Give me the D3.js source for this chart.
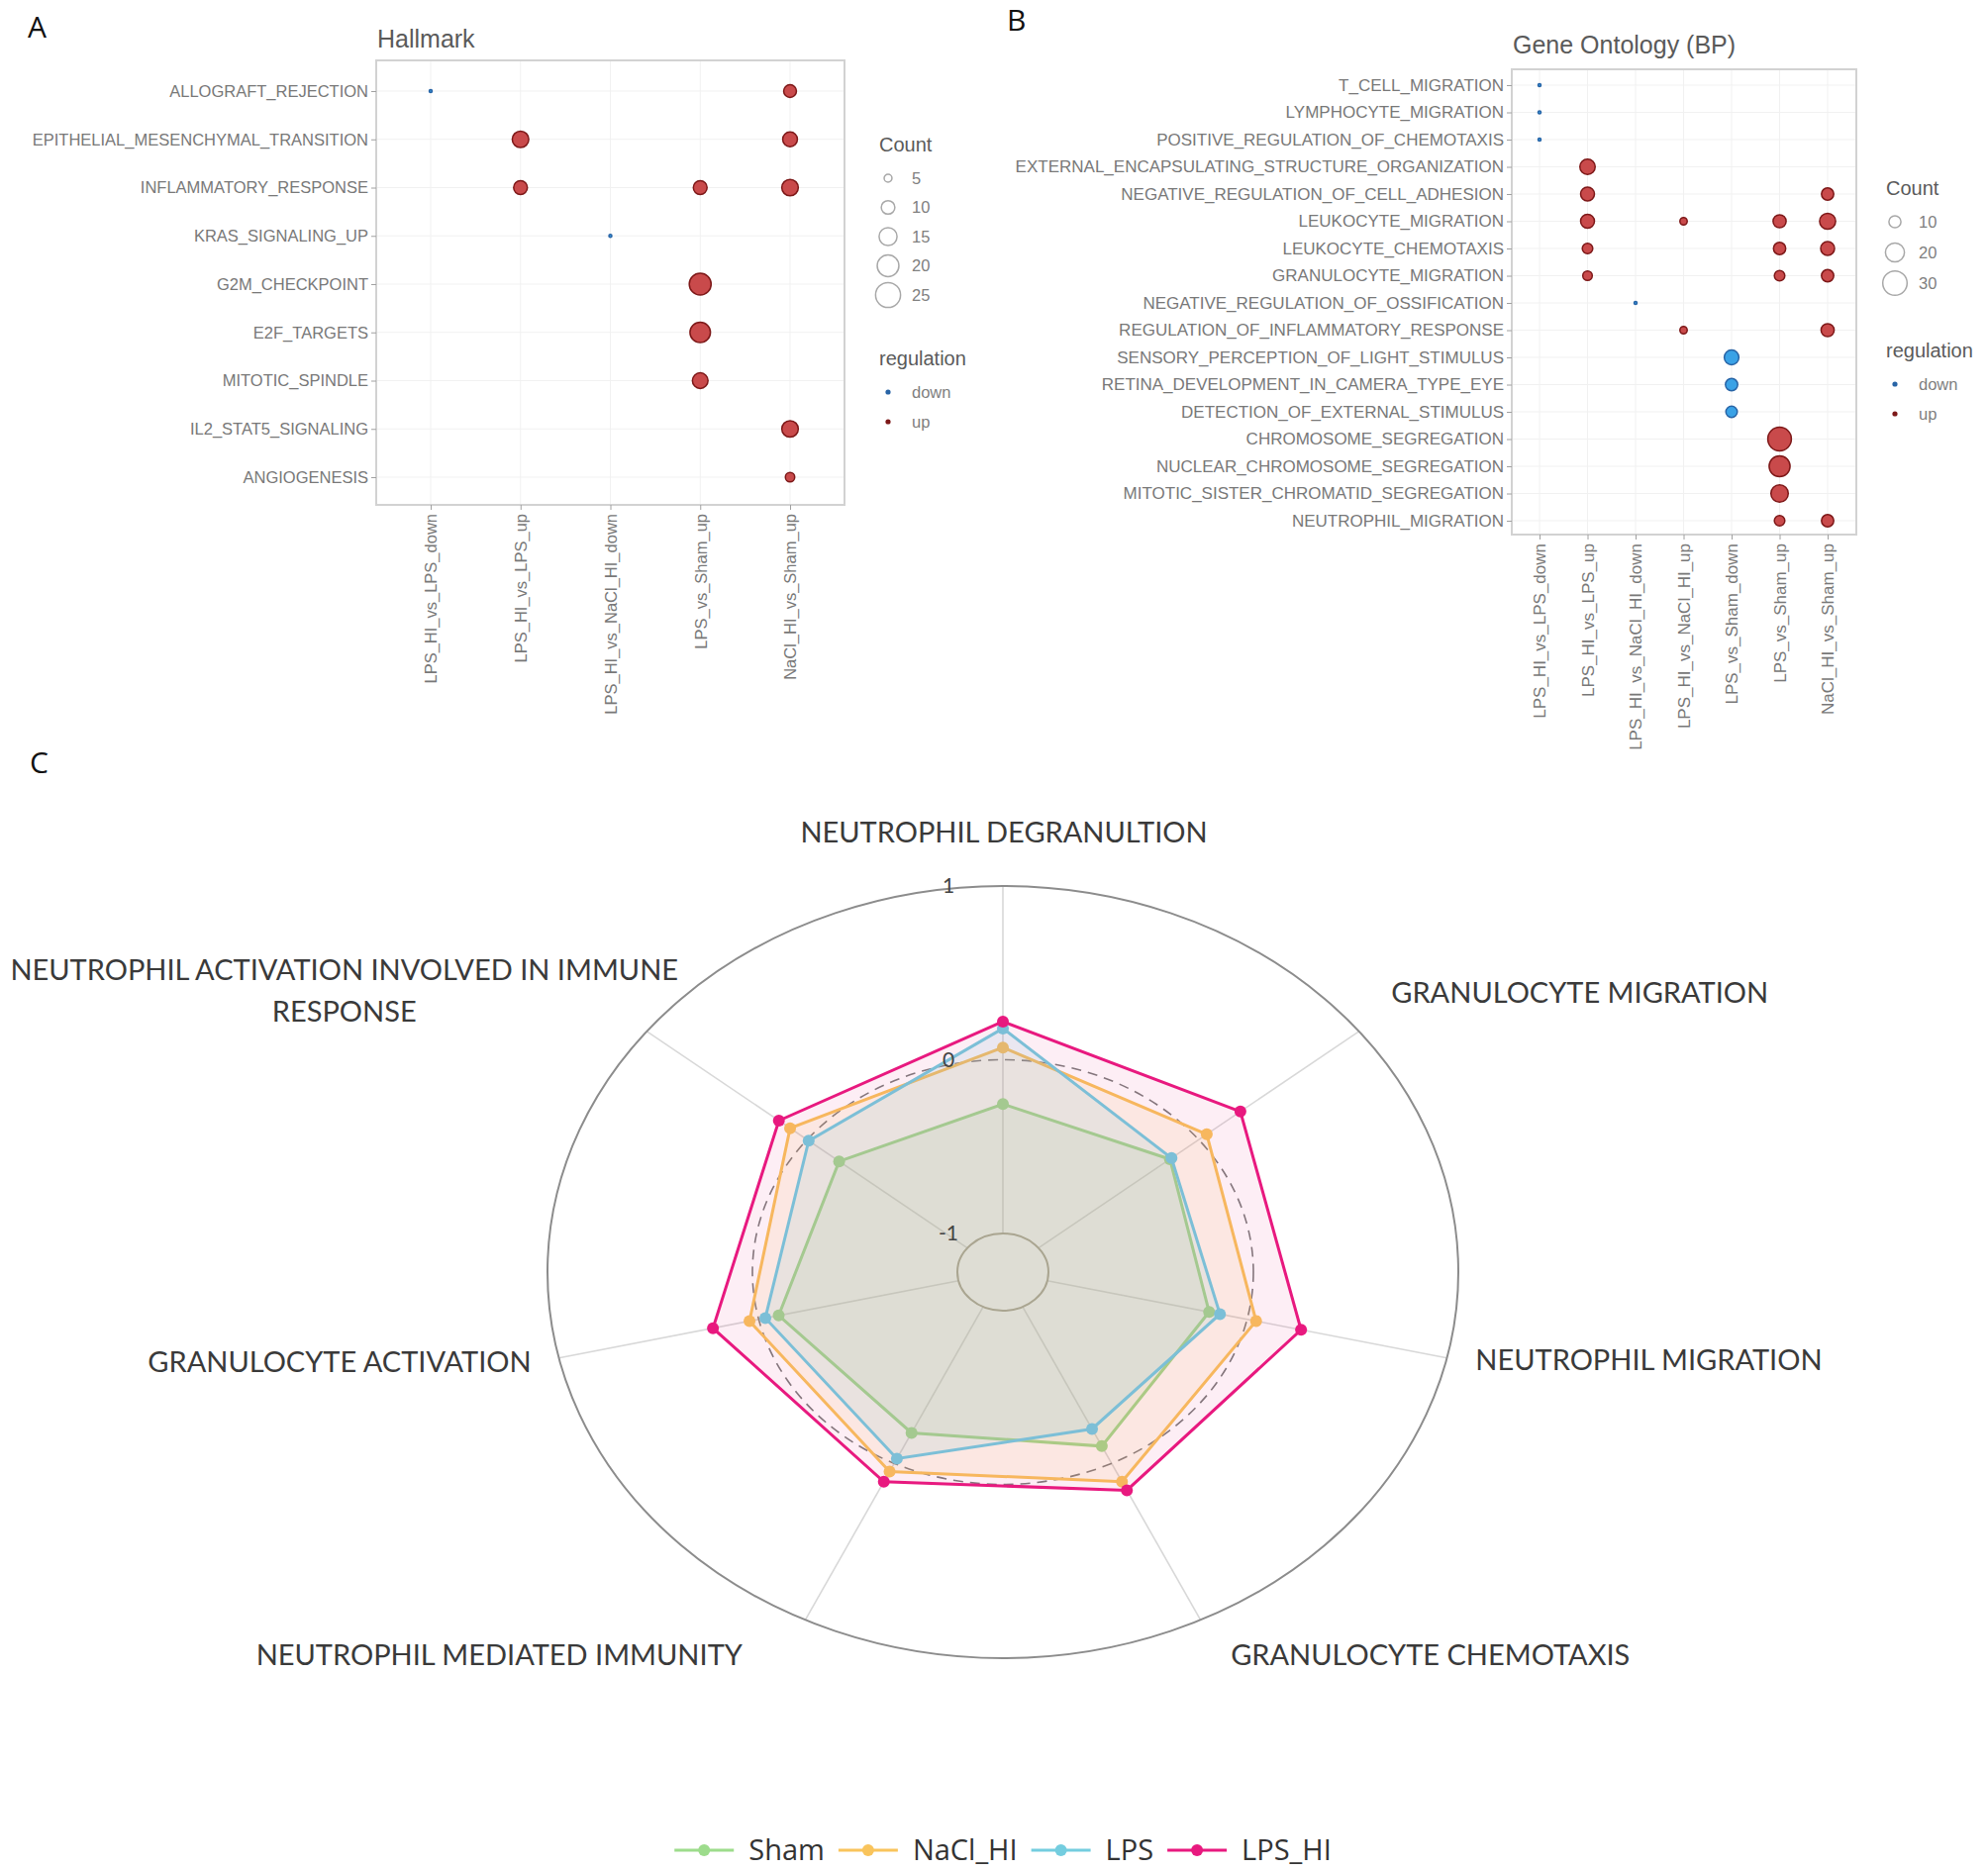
<!DOCTYPE html>
<html>
<head>
<meta charset="utf-8">
<script src="https://cdn.jsdelivr.net/npm/d3@7"></script>
<style>
    body { margin: 0; background: #ffffff; }
    svg { display: block; }
</style>
</head>
<body>
<div id="chart"></div>
<script>

// ---------- Panel A : Hallmark ----------
const hallmarkTerms = [
    "ALLOGRAFT_REJECTION", "EPITHELIAL_MESENCHYMAL_TRANSITION", "INFLAMMATORY_RESPONSE",
    "KRAS_SIGNALING_UP", "G2M_CHECKPOINT", "E2F_TARGETS", "MITOTIC_SPINDLE",
    "IL2_STAT5_SIGNALING", "ANGIOGENESIS"
];
const hallmarkComparisons = [
    "LPS_HI_vs_LPS_down", "LPS_HI_vs_LPS_up", "LPS_HI_vs_NaCl_HI_down",
    "LPS_vs_Sham_up", "NaCl_HI_vs_Sham_up"
];
// term, comparison, gene count, regulation
const hallmarkHits = [
    ["ALLOGRAFT_REJECTION", "LPS_HI_vs_LPS_down", 2, "down"],
    ["ALLOGRAFT_REJECTION", "NaCl_HI_vs_Sham_up", 9, "up"],
    ["EPITHELIAL_MESENCHYMAL_TRANSITION", "LPS_HI_vs_LPS_up", 13, "up"],
    ["EPITHELIAL_MESENCHYMAL_TRANSITION", "NaCl_HI_vs_Sham_up", 11, "up"],
    ["INFLAMMATORY_RESPONSE", "LPS_HI_vs_LPS_up", 10, "up"],
    ["INFLAMMATORY_RESPONSE", "LPS_vs_Sham_up", 10, "up"],
    ["INFLAMMATORY_RESPONSE", "NaCl_HI_vs_Sham_up", 13, "up"],
    ["KRAS_SIGNALING_UP", "LPS_HI_vs_NaCl_HI_down", 2, "down"],
    ["G2M_CHECKPOINT", "LPS_vs_Sham_up", 20, "up"],
    ["E2F_TARGETS", "LPS_vs_Sham_up", 18, "up"],
    ["MITOTIC_SPINDLE", "LPS_vs_Sham_up", 12, "up"],
    ["IL2_STAT5_SIGNALING", "NaCl_HI_vs_Sham_up", 13, "up"],
    ["ANGIOGENESIS", "NaCl_HI_vs_Sham_up", 6, "up"]
];
const hallmarkCountBreaks = [5, 10, 15, 20, 25];

// ---------- Panel B : Gene Ontology (BP) ----------
const goTerms = [
    "T_CELL_MIGRATION", "LYMPHOCYTE_MIGRATION", "POSITIVE_REGULATION_OF_CHEMOTAXIS",
    "EXTERNAL_ENCAPSULATING_STRUCTURE_ORGANIZATION", "NEGATIVE_REGULATION_OF_CELL_ADHESION",
    "LEUKOCYTE_MIGRATION", "LEUKOCYTE_CHEMOTAXIS", "GRANULOCYTE_MIGRATION",
    "NEGATIVE_REGULATION_OF_OSSIFICATION", "REGULATION_OF_INFLAMMATORY_RESPONSE",
    "SENSORY_PERCEPTION_OF_LIGHT_STIMULUS", "RETINA_DEVELOPMENT_IN_CAMERA_TYPE_EYE",
    "DETECTION_OF_EXTERNAL_STIMULUS", "CHROMOSOME_SEGREGATION",
    "NUCLEAR_CHROMOSOME_SEGREGATION", "MITOTIC_SISTER_CHROMATID_SEGREGATION",
    "NEUTROPHIL_MIGRATION"
];
const goComparisons = [
    "LPS_HI_vs_LPS_down", "LPS_HI_vs_LPS_up", "LPS_HI_vs_NaCl_HI_down", "LPS_HI_vs_NaCl_HI_up",
    "LPS_vs_Sham_down", "LPS_vs_Sham_up", "NaCl_HI_vs_Sham_up"
];
const goHits = [
    ["T_CELL_MIGRATION", "LPS_HI_vs_LPS_down", 2, "down"],
    ["LYMPHOCYTE_MIGRATION", "LPS_HI_vs_LPS_down", 2, "down"],
    ["POSITIVE_REGULATION_OF_CHEMOTAXIS", "LPS_HI_vs_LPS_down", 2, "down"],
    ["EXTERNAL_ENCAPSULATING_STRUCTURE_ORGANIZATION", "LPS_HI_vs_LPS_up", 14, "up"],
    ["NEGATIVE_REGULATION_OF_CELL_ADHESION", "LPS_HI_vs_LPS_up", 12, "up"],
    ["NEGATIVE_REGULATION_OF_CELL_ADHESION", "NaCl_HI_vs_Sham_up", 10, "up"],
    ["LEUKOCYTE_MIGRATION", "LPS_HI_vs_LPS_up", 12, "up"],
    ["LEUKOCYTE_MIGRATION", "LPS_HI_vs_NaCl_HI_up", 5, "up"],
    ["LEUKOCYTE_MIGRATION", "LPS_vs_Sham_up", 11, "up"],
    ["LEUKOCYTE_MIGRATION", "NaCl_HI_vs_Sham_up", 15, "up"],
    ["LEUKOCYTE_CHEMOTAXIS", "LPS_HI_vs_LPS_up", 8, "up"],
    ["LEUKOCYTE_CHEMOTAXIS", "LPS_vs_Sham_up", 10, "up"],
    ["LEUKOCYTE_CHEMOTAXIS", "NaCl_HI_vs_Sham_up", 12, "up"],
    ["GRANULOCYTE_MIGRATION", "LPS_HI_vs_LPS_up", 7, "up"],
    ["GRANULOCYTE_MIGRATION", "LPS_vs_Sham_up", 8, "up"],
    ["GRANULOCYTE_MIGRATION", "NaCl_HI_vs_Sham_up", 10, "up"],
    ["NEGATIVE_REGULATION_OF_OSSIFICATION", "LPS_HI_vs_NaCl_HI_down", 2, "down"],
    ["REGULATION_OF_INFLAMMATORY_RESPONSE", "LPS_HI_vs_NaCl_HI_up", 5, "up"],
    ["REGULATION_OF_INFLAMMATORY_RESPONSE", "NaCl_HI_vs_Sham_up", 11, "up"],
    ["SENSORY_PERCEPTION_OF_LIGHT_STIMULUS", "LPS_vs_Sham_down", 13, "down"],
    ["RETINA_DEVELOPMENT_IN_CAMERA_TYPE_EYE", "LPS_vs_Sham_down", 10, "down"],
    ["DETECTION_OF_EXTERNAL_STIMULUS", "LPS_vs_Sham_down", 9, "down"],
    ["CHROMOSOME_SEGREGATION", "LPS_vs_Sham_up", 28, "up"],
    ["NUCLEAR_CHROMOSOME_SEGREGATION", "LPS_vs_Sham_up", 23, "up"],
    ["MITOTIC_SISTER_CHROMATID_SEGREGATION", "LPS_vs_Sham_up", 17, "up"],
    ["NEUTROPHIL_MIGRATION", "LPS_vs_Sham_up", 8, "up"],
    ["NEUTROPHIL_MIGRATION", "NaCl_HI_vs_Sham_up", 10, "up"]
];
const goCountBreaks = [10, 20, 30];

const regulationLevels = ["down", "up"];

// ---------- Panel C : radar ----------
const radarAxes = [
    "NEUTROPHIL DEGRANULTION", "GRANULOCYTE MIGRATION", "NEUTROPHIL MIGRATION",
    "GRANULOCYTE CHEMOTAXIS", "NEUTROPHIL MEDIATED IMMUNITY", "GRANULOCYTE ACTIVATION",
    "NEUTROPHIL ACTIVATION INVOLVED IN IMMUNE RESPONSE"
];
const radarGroups = ["Sham", "NaCl_HI", "LPS", "LPS_HI"];
const shamScores = [-0.255, -0.18, -0.19, -0.11, -0.195, -0.10, -0.20];
const naclHiScores = [0.07, 0.05, 0.045, 0.117, 0.052, 0.046, 0.106];
const lpsScores = [0.18, -0.17, -0.136, -0.22, -0.03, -0.033, -0.01];
const lpsHiScores = [0.22, 0.26, 0.27, 0.172, 0.117, 0.229, 0.176];
const radarTicks = [-1, 0, 1];


const svg = d3.select("#chart").append("svg")
    .attr("width", 2008)
    .attr("height", 1890);

const dotFont = "'Liberation Sans', Arial, Helvetica, sans-serif";
const regFill = {down: "#3aa2e6", up: "#c94a4b"};
const regStroke = {down: "#2864a6", up: "#7d1818"};

class DotPlot {
    constructor(opts){
        this.opts = opts;
        this.initVis();
    }

    initVis(){
        let vis = this;
        let o = vis.opts;

        vis.g = svg.append("g");

        // Scales
        vis.y = d3.scalePoint().domain(o.terms).range(o.rowRange);
        vis.x = d3.scalePoint().domain(o.comparisons).range(o.colRange);
        vis.r = d3.scaleSqrt().domain(o.sizeDomain).range(o.sizeRange);

        // Panel grid
        vis.g.append("g").selectAll("line.gx")
            .data(o.comparisons).enter().append("line")
            .attr("x1", d => vis.x(d)).attr("x2", d => vis.x(d))
            .attr("y1", o.box.y0).attr("y2", o.box.y1)
            .attr("stroke", "#f1f1f1").attr("stroke-width", 1);
        vis.g.append("g").selectAll("line.gy")
            .data(o.terms).enter().append("line")
            .attr("y1", d => vis.y(d)).attr("y2", d => vis.y(d))
            .attr("x1", o.box.x0).attr("x2", o.box.x1)
            .attr("stroke", "#f1f1f1").attr("stroke-width", 1);

        // Panel border
        vis.g.append("rect")
            .attr("x", o.box.x0).attr("y", o.box.y0)
            .attr("width", o.box.x1 - o.box.x0)
            .attr("height", o.box.y1 - o.box.y0)
            .attr("fill", "none")
            .attr("stroke", "#d2d2d2")
            .attr("stroke-width", 2);

        // Axes
        vis.yAxis = d3.axisLeft(vis.y).tickSize(5).tickPadding(3);
        vis.xAxis = d3.axisBottom(vis.x).tickSize(5).tickPadding(4);

        let ya = vis.g.append("g")
            .attr("transform", "translate(" + o.box.x0 + ",0)")
            .call(vis.yAxis);
        let xa = vis.g.append("g")
            .attr("transform", "translate(0," + o.box.y1 + ")")
            .call(vis.xAxis);

        [ya, xa].forEach(a => {
            a.select(".domain").remove();
            a.selectAll(".tick line").attr("stroke", "#a0a0a0");
            a.selectAll("text")
                .attr("fill", "#787878")
                .style("font-family", dotFont)
                .style("font-size", o.fontSize + "px");
        });

        xa.selectAll("text")
            .attr("transform", "rotate(-90)")
            .attr("x", -9)
            .attr("y", 0)
            .attr("dy", "0.35em")
            .style("text-anchor", "end");

        // Title and panel letter
        vis.g.append("text")
            .attr("x", o.box.x0 + 1)
            .attr("y", o.titleY)
            .attr("fill", "#5a5a5a")
            .style("font-family", dotFont)
            .style("font-size", "25px")
            .text(o.title);

        vis.g.append("text")
            .attr("x", o.letterPos[0])
            .attr("y", o.letterPos[1])
            .attr("fill", "#111")
            .style("font-family", "'Open Sans', sans-serif")
            .style("font-size", "30px")
            .text(o.letter);

        vis.updateVis();
    }

    updateVis(){
        let vis = this;
        let o = vis.opts;

        // Points
        vis.g.append("g").selectAll("circle")
            .data(o.hits)
            .enter()
            .append("circle")
            .attr("cx", d => vis.x(d[1]))
            .attr("cy", d => vis.y(d[0]))
            .attr("r", d => vis.r(d[2]) - 0.5)
            .attr("fill", d => regFill[d[3]])
            .attr("stroke", d => regStroke[d[3]])
            .attr("stroke-width", 1.5);

        // Count legend
        let lg = vis.g.append("g");
        lg.append("text")
            .attr("x", o.legend.x)
            .attr("y", o.legend.countY)
            .attr("fill", "#5a5a5a")
            .style("font-family", dotFont)
            .style("font-size", "20px")
            .text("Count");

        let keys = lg.selectAll("g.key")
            .data(o.breaks)
            .enter().append("g")
            .attr("transform", (d, i) => "translate(0," + (o.legend.keyY + i * o.legend.keyStep) + ")");
        keys.append("circle")
            .attr("cx", o.legend.x + 9)
            .attr("cy", 0)
            .attr("r", d => vis.r(d) - 0.6)
            .attr("fill", "none")
            .attr("stroke", "#a8a8a8")
            .attr("stroke-width", 1.5);
        keys.append("text")
            .attr("x", o.legend.x + 33)
            .attr("y", 0)
            .attr("dy", "0.35em")
            .attr("fill", "#808080")
            .style("font-family", dotFont)
            .style("font-size", "16.5px")
            .text(d => d);

        // Regulation legend
        lg.append("text")
            .attr("x", o.legend.x)
            .attr("y", o.legend.regY)
            .attr("fill", "#5a5a5a")
            .style("font-family", dotFont)
            .style("font-size", "20px")
            .text("regulation");

        let regs = lg.selectAll("g.reg")
            .data(regulationLevels)
            .enter().append("g")
            .attr("transform", (d, i) => "translate(0," + (o.legend.regKeyY + i * 30) + ")");
        regs.append("circle")
            .attr("cx", o.legend.x + 9)
            .attr("cy", 0)
            .attr("r", 2.6)
            .attr("fill", d => regStroke[d]);
        regs.append("text")
            .attr("x", o.legend.x + 33)
            .attr("y", 0)
            .attr("dy", "0.35em")
            .attr("fill", "#808080")
            .style("font-family", dotFont)
            .style("font-size", "16.5px")
            .text(d => d);
    }
}

class RadarChart {
    constructor(opts){
        this.opts = opts;
        this.initVis();
    }

    initVis(){
        let vis = this;
        let o = vis.opts;

        vis.g = svg.append("g");

        // ggradar style: centre sits 1/9 of the range below the min grid
        vis.centreY = -1 - (1 - (-1)) / 9;
        vis.rho = d3.scaleLinear().domain([vis.centreY, 1]).range([0, 1]);
        vis.angle = d3.scaleLinear().domain([0, radarAxes.length]).range([0, 2 * Math.PI]);

        vis.px = (v, i) => o.cx + o.rx * vis.rho(v) * Math.sin(vis.angle(i));
        vis.py = (v, i) => o.cy - o.ry * vis.rho(v) * Math.cos(vis.angle(i));

        // Spokes
        vis.g.append("g").selectAll("line")
            .data(radarAxes).enter().append("line")
            .attr("x1", (d, i) => vis.px(-1, i))
            .attr("y1", (d, i) => vis.py(-1, i))
            .attr("x2", (d, i) => vis.px(1, i))
            .attr("y2", (d, i) => vis.py(1, i))
            .attr("stroke", "#d8d8d8")
            .attr("stroke-width", 1.6);

        // Grid rings
        vis.g.append("g").selectAll("ellipse")
            .data(radarTicks).enter().append("ellipse")
            .attr("cx", o.cx).attr("cy", o.cy)
            .attr("rx", d => o.rx * vis.rho(d))
            .attr("ry", d => o.ry * vis.rho(d))
            .attr("fill", "none")
            .attr("stroke", d => d === 0 ? "#7d7d7d" : (d < 0 ? "#a7a18f" : "#8c8c8c"))
            .attr("stroke-width", d => d === 0 ? 1.6 : 2)
            .attr("stroke-dasharray", d => d === 0 ? "10,7" : null);

        vis.updateVis();
    }

    updateVis(){
        let vis = this;
        let o = vis.opts;

        vis.series = radarGroups.map((name, k) => ({
            name: name,
            values: o.values[k],
            color: o.colors[k],
            alpha: o.alphas[k]
        }));

        let line = d3.line()
            .x(d => vis.px(d.v, d.i))
            .y(d => vis.py(d.v, d.i))
            .curve(d3.curveLinearClosed);

        let groups = vis.g.append("g").selectAll("g.series")
            .data(vis.series).enter().append("g");

        groups.append("path")
            .attr("d", s => line(s.values.map((v, i) => ({v: v, i: i}))))
            .attr("fill", s => s.color)
            .attr("fill-opacity", s => s.alpha)
            .attr("stroke", s => s.color)
            .attr("stroke-width", 3);

        groups.selectAll("circle")
            .data(s => s.values.map((v, i) => ({v: v, i: i, color: s.color})))
            .enter().append("circle")
            .attr("cx", d => vis.px(d.v, d.i))
            .attr("cy", d => vis.py(d.v, d.i))
            .attr("r", 6)
            .attr("fill", d => d.color);

        // Tick labels
        vis.g.append("g").selectAll("text")
            .data(radarTicks).enter().append("text")
            .attr("x", o.cx - 55)
            .attr("y", d => o.cy - o.ry * vis.rho(d))
            .attr("dy", "0.35em")
            .attr("text-anchor", "middle")
            .attr("fill", "#444")
            .style("font-family", "Lato, 'Open Sans', sans-serif")
            .style("font-size", "21px")
            .text(d => d);

        // Axis labels
        let labelK = 1.138;
        let labels = vis.g.append("g").selectAll("text")
            .data(radarAxes).enter().append("text")
            .attr("x", (d, i) => o.cx + o.rx * labelK * Math.sin(vis.angle(i)) + o.labelNudge[i][0])
            .attr("y", (d, i) => o.cy - o.ry * labelK * Math.cos(vis.angle(i)) + o.labelNudge[i][1])
            .attr("text-anchor", (d, i) => o.labelAnchor[i])
            .attr("fill", "#3a3a3a")
            .style("font-family", "Lato, 'Open Sans', sans-serif")
            .style("font-size", "29px");

        labels.each(function(d, i){
            let el = d3.select(this);
            let lines = d.length > 30 ? [d.slice(0, d.lastIndexOf(" ")), d.slice(d.lastIndexOf(" ") + 1)] : [d];
            let x = el.attr("x");
            lines.forEach((t, j) => {
                el.append("tspan").attr("x", x).attr("dy", j === 0 ? 0 : 42).text(t);
            });
        });

        // Panel letter
        vis.g.append("text")
            .attr("x", 30).attr("y", 781)
            .attr("fill", "#111")
            .style("font-family", "'Open Sans', sans-serif")
            .style("font-size", "30px")
            .text("C");

        // Bottom legend
        let lg = vis.g.append("g");
        let items = lg.selectAll("g").data(vis.series).enter().append("g");
        items.append("line")
            .attr("x1", 0).attr("x2", 60)
            .attr("y1", 0).attr("y2", 0)
            .attr("stroke", s => s.color)
            .attr("stroke-width", 3);
        items.append("circle")
            .attr("cx", 30).attr("cy", 0).attr("r", 6)
            .attr("fill", s => s.color);
        items.append("text")
            .attr("x", 75).attr("y", 0).attr("dy", "0.34em")
            .attr("fill", "#333")
            .style("font-family", "'Open Sans', sans-serif")
            .style("font-size", "29px")
            .text(s => s.name);

        // lay the legend items side by side, centred under the radar
        let widths = [];
        items.each(function(){ widths.push(75 + d3.select(this).select("text").node().getComputedTextLength()); });
        let gap = 14;
        let total = d3.sum(widths) + gap * (widths.length - 1);
        let xPos = o.cx - total / 2;
        items.attr("transform", (s, i) => {
            let t = "translate(" + xPos + "," + o.legendY + ")";
            xPos += widths[i] + gap;
            return t;
        });
    }
}

new DotPlot({
    terms: hallmarkTerms,
    comparisons: hallmarkComparisons,
    hits: hallmarkHits,
    breaks: hallmarkCountBreaks,
    box: {x0: 380, x1: 853, y0: 61, y1: 510},
    rowRange: [92, 482],
    colRange: [435, 798],
    sizeDomain: [2, 25],
    sizeRange: [2, 13.2],
    fontSize: 16.5,
    title: "Hallmark",
    titleY: 48,
    letter: "A",
    letterPos: [28, 38],
    legend: {x: 888, countY: 153, keyY: 180, keyStep: 29.5, regY: 369, regKeyY: 396}
});

new DotPlot({
    terms: goTerms,
    comparisons: goComparisons,
    hits: goHits,
    breaks: goCountBreaks,
    box: {x0: 1527, x1: 1875, y0: 70, y1: 540},
    rowRange: [86, 526],
    colRange: [1555, 1846],
    sizeDomain: [2, 30],
    sizeRange: [2, 12.9],
    fontSize: 17,
    title: "Gene Ontology (BP)",
    titleY: 54,
    letter: "B",
    letterPos: [1017, 31],
    legend: {x: 1905, countY: 197, keyY: 224, keyStep: 31, regY: 361, regKeyY: 388}
});

new RadarChart({
    cx: 1013, cy: 1285, rx: 460, ry: 390,
    values: [shamScores, naclHiScores, lpsScores, lpsHiScores],
    colors: ["#9ddc8c", "#f9c45c", "#74cddf", "#e8197f"],
    alphas: [0.15, 0.12, 0.14, 0.075],
    labelAnchor: ["middle", "start", "start", "start", "end", "end", "middle"],
    labelNudge: [[1, 10], [-17, 5], [-33, 0], [3, -3], [-36, -3], [34, 2], [-256, -18]],
    legendY: 1869
});

</script>
</body>
</html>
